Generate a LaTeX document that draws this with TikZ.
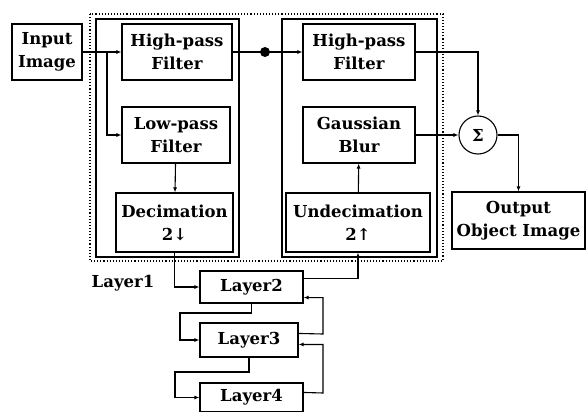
\documentclass[tikz,border=0pt]{standalone}
\usepackage{amsmath,amssymb,bm}
\usepackage{fontspec}
\setmainfont{DejaVu Serif}
\usepackage{tikz}
\usetikzlibrary{arrows.meta,positioning,calc}
\newcommand{\blockfont}{\fontsize{16.5}{23}\selectfont\bfseries}
\tikzset{
  block/.style={draw, line width=1.1pt, align=center, inner sep=0pt, font=\blockfont},
  layerbox/.style={block, minimum height=32pt},
  panel/.style={draw, line width=1.1pt},
  outerbox/.style={draw, line width=1.1pt, dotted},
  flow/.style={-{Latex[length=5pt,width=4pt]}, line width=1.1pt},
  plain/.style={line width=1.1pt}
}
\begin{document}
\begin{tikzpicture}[x=1pt,y=-1pt]
  \useasboundingbox (0,0) rectangle (586,412);
  % frames
  \draw[outerbox] (90,14) rectangle (443,261);
  \draw[panel] (96,19) rectangle (239,257);
  \draw[panel] (282,19) rectangle (437,257);
  % blocks
  \node[block, minimum width=70pt, minimum height=56pt] (inimg) at (47,52) {Input\\Image};
  \node[block, minimum width=110pt, minimum height=56pt] (hpa) at (177,52) {High-pass\\Filter};
  \node[block, minimum width=108pt, minimum height=56pt] (lpf) at (176,135) {Low-pass\\Filter};
  \node[block, minimum width=117pt, minimum height=59pt] (dec) at (174.5,222.5) {Decimation\\2↓};
  \node[block, minimum width=112pt, minimum height=56pt] (hpb) at (359,52) {High-pass\\Filter};
  \node[block, minimum width=112pt, minimum height=56pt] (gauss) at (359,135) {Gaussian\\Blur};
  \node[block, minimum width=144pt, minimum height=59pt] (undec) at (358,222.5) {Undecimation\\2↑};
  \node[block, circle, minimum size=38pt] (sum) at (478,135) {Σ};
  \node[block, minimum width=133pt, minimum height=57pt] (outimg) at (518.5,220.5) {Output\\Object Image};
  \node[font=\blockfont] (lay1) at (123,283) {Layer1};
  \node[layerbox, minimum width=103pt] (lay2) at (251.5,287) {Layer2};
  \node[layerbox, minimum width=98pt, minimum height=34pt] (lay3) at (249,340) {Layer3};
  \node[layerbox, minimum width=103pt, minimum height=29pt] (lay4) at (251.5,397.5) {Layer4};
  \fill (265,52) circle (5pt) coordinate (jn);
  \coordinate (br) at (107,52);
  % connections
  \draw[flow] (inimg) -- (hpa);
  \draw[flow] (br) |- (lpf.west);
  \draw[plain] (hpa.east) -- (jn);
  \draw[flow] (jn) -- (hpb.west);
  \draw[flow] (lpf) -- (dec);
  \draw[flow] (dec.south) |- (lay2.west);
  \draw[flow] ([yshift=-8pt]lay2.north east) -| (undec.south);
  \draw[flow] (undec) -- (gauss);
  \draw[flow] (gauss) -- (sum);
  \draw[flow] (hpb.east) -| (sum.north);
  \draw[flow] (sum.east) -| (outimg.north);
  \draw[flow] (lay2.south) |- (180,313) |- (lay3.west);
  \draw[flow] (lay3.south) |- (175,372) |- (lay4.west);
  \draw[flow] ([yshift=-11pt]lay3.north east) -- (323,334) |- ([yshift=6pt]lay2.south east);
  \draw[flow] ([yshift=-10pt]lay4.north east) -- (323,393) |- ([yshift=-22pt]lay3.north east);
\end{tikzpicture}
\end{document}
